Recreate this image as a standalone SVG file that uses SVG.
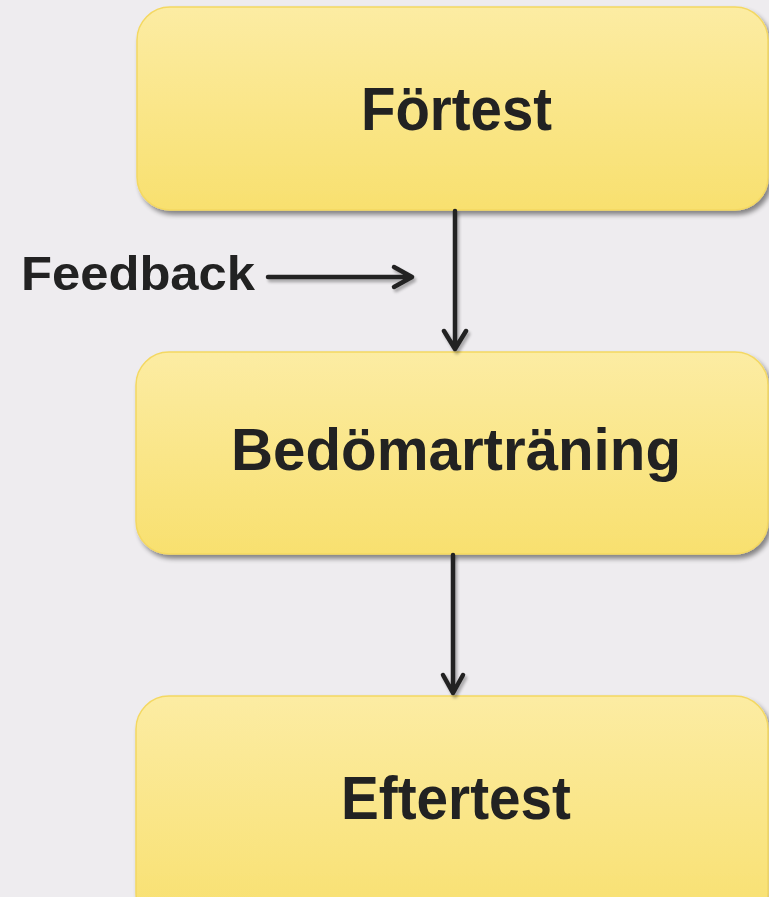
<svg xmlns="http://www.w3.org/2000/svg" width="769" height="897" viewBox="0 0 769 897">
<defs>
<linearGradient id="yg" x1="0" y1="0" x2="0" y2="1">
<stop offset="0" stop-color="#FCECA3"/>
<stop offset="1" stop-color="#F8E06F"/>
</linearGradient>
<filter id="sh" x="-10%" y="-10%" width="125%" height="130%">
<feGaussianBlur in="SourceAlpha" stdDeviation="2.5"/>
<feOffset dx="3" dy="4" result="b"/>
<feComponentTransfer><feFuncA type="linear" slope="0.45"/></feComponentTransfer>
<feMerge><feMergeNode/><feMergeNode in="SourceGraphic"/></feMerge>
</filter>
<filter id="lsh" x="-50%" y="-50%" width="200%" height="200%">
<feGaussianBlur in="SourceAlpha" stdDeviation="1.5"/>
<feOffset dx="2" dy="3"/>
<feComponentTransfer><feFuncA type="linear" slope="0.3"/></feComponentTransfer>
<feMerge><feMergeNode/><feMergeNode in="SourceGraphic"/></feMerge>
</filter>
</defs>
<style>
.box{fill:url(#yg);stroke:#F4D862;stroke-width:1.5;filter:url(#sh)}
.lbl{font-family:"Liberation Sans",Arial,sans-serif;font-weight:bold;fill:#222222;text-anchor:middle}
.ln{stroke:#222222;stroke-width:4.5;fill:none;stroke-linecap:round;stroke-linejoin:round}
</style>
<rect width="769" height="897" fill="#EEECEF"/>
<g id="node-fortest">
<rect class="box" x="137" y="7" width="631" height="203" rx="33"/>
<text class="lbl" x="456.5" y="130" font-size="61" textLength="191" lengthAdjust="spacingAndGlyphs">Förtest</text>
</g>
<g id="node-bedomartraning">
<rect class="box" x="136" y="352" width="632" height="202" rx="33"/>
<text class="lbl" x="456" y="470" font-size="59" textLength="450" lengthAdjust="spacingAndGlyphs">Bedömarträning</text>
</g>
<g id="node-eftertest">
<rect class="box" x="136" y="696" width="632" height="230" rx="33"/>
<text class="lbl" x="456" y="819" font-size="62" textLength="230" lengthAdjust="spacingAndGlyphs">Eftertest</text>
</g>
<g id="feedback-label">
<text class="lbl" x="138" y="290" font-size="48" textLength="234" lengthAdjust="spacingAndGlyphs">Feedback</text>
</g>
<g id="connectors" filter="url(#lsh)">
<path class="ln" d="M455 211 V349 M444 331 L455 349 L466 331"/>
<path class="ln" d="M453 555 V693 M443 675 L453 693 L463 675"/>
<path class="ln" d="M268 277 H412 M394 267 L412 277 L394 287"/>
</g>
</svg>
